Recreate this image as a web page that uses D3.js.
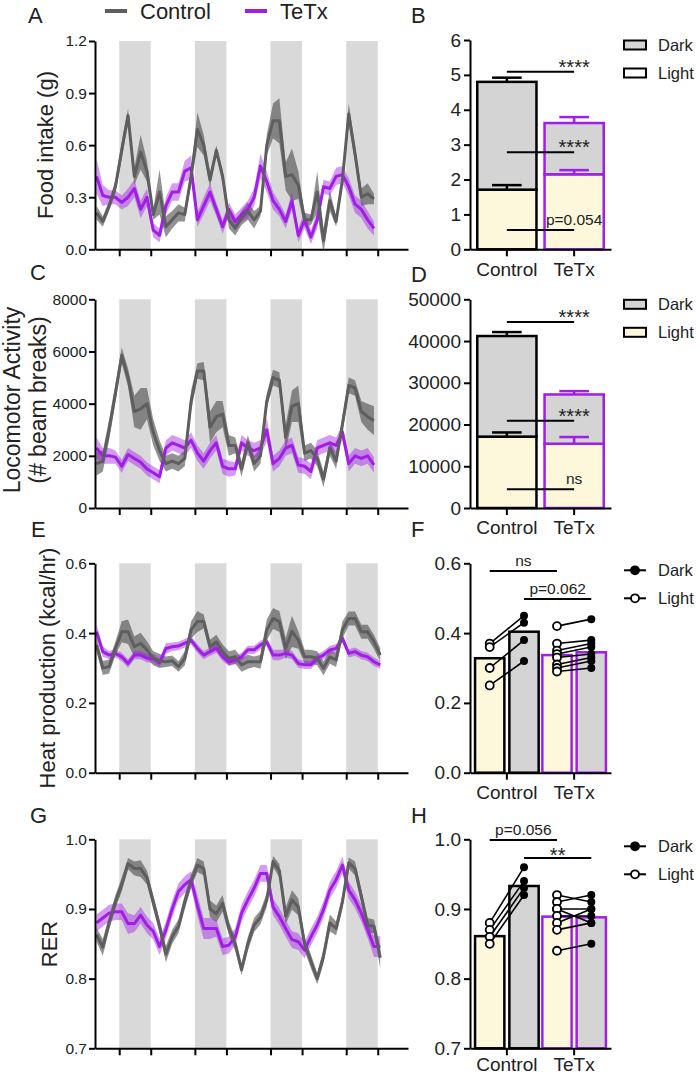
<!DOCTYPE html>
<html>
<head>
<meta charset="utf-8">
<script src="https://cdn.jsdelivr.net/npm/d3@7"></script>
<style>
  body { margin: 0; background: #fff; }
  svg { font-family: "Liberation Sans", Arial, sans-serif; }
</style>
</head>
<body>
<script>
// ---------- data ----------
var groups = ["Control", "TeTx"];
var phases = ["Light", "Dark"];

// dark phase shading (hours), data in 2 h bins starting at hour 0
var darkStart = [7.2, 31.2, 55.2, 79.2];
var darkEnd = [17.2, 41.2, 65.2, 89.2];
var binHours = 2;

// A - food intake (g)
var foodCtrl = [0.21, 0.16, 0.25, 0.36, 0.57, 0.77, 0.42, 0.56, 0.45, 0.20, 0.33, 0.13, 0.17, 0.21, 0.20, 0.42, 0.69, 0.60, 0.40, 0.57, 0.42, 0.17, 0.12, 0.18, 0.22, 0.17, 0.22, 0.60, 0.74, 0.74, 0.42, 0.43, 0.37, 0.17, 0.17, 0.33, 0.05, 0.28, 0.16, 0.40, 0.78, 0.55, 0.30, 0.32, 0.29];
var foodCtrlSem = [0.04, 0.03, 0.03, 0.04, 0.05, 0.04, 0.05, 0.10, 0.06, 0.03, 0.13, 0.06, 0.05, 0.05, 0.04, 0.04, 0.10, 0.06, 0.04, 0.03, 0.04, 0.05, 0.04, 0.04, 0.05, 0.05, 0.03, 0.06, 0.10, 0.13, 0.08, 0.15, 0.08, 0.04, 0.03, 0.12, 0.07, 0.06, 0.03, 0.04, 0.06, 0.05, 0.05, 0.06, 0.03];
var foodTetx = [0.42, 0.31, 0.30, 0.30, 0.27, 0.30, 0.35, 0.23, 0.30, 0.11, 0.08, 0.25, 0.33, 0.33, 0.45, 0.47, 0.17, 0.25, 0.33, 0.23, 0.13, 0.23, 0.16, 0.20, 0.23, 0.30, 0.48, 0.39, 0.28, 0.23, 0.16, 0.28, 0.08, 0.17, 0.07, 0.17, 0.36, 0.35, 0.42, 0.43, 0.36, 0.26, 0.23, 0.17, 0.12];
var foodTetxSem = [0.10, 0.06, 0.04, 0.04, 0.04, 0.05, 0.05, 0.05, 0.05, 0.04, 0.04, 0.05, 0.05, 0.05, 0.06, 0.07, 0.04, 0.05, 0.05, 0.04, 0.04, 0.04, 0.04, 0.04, 0.05, 0.05, 0.07, 0.06, 0.05, 0.04, 0.04, 0.05, 0.04, 0.05, 0.04, 0.05, 0.04, 0.04, 0.05, 0.05, 0.05, 0.05, 0.05, 0.05, 0.04];

// C - locomotor activity (# beam breaks)
var locoCtrl = [1700, 1800, 3000, 4400, 5850, 5000, 3700, 3800, 4000, 2900, 2200, 1700, 1800, 1700, 1900, 4100, 5250, 5250, 3100, 3500, 3600, 2400, 2400, 1500, 2500, 1700, 2000, 4100, 5000, 4900, 2700, 3900, 4000, 2100, 2200, 1900, 1100, 2300, 1800, 3200, 4700, 4600, 3700, 3500, 3350];
var locoCtrlSem = [450, 400, 400, 350, 300, 350, 600, 800, 600, 500, 400, 300, 300, 300, 300, 400, 300, 350, 600, 600, 500, 400, 300, 300, 300, 300, 300, 300, 300, 300, 500, 600, 700, 300, 300, 300, 300, 300, 300, 300, 300, 300, 400, 500, 550];
var locoTetx = [2300, 2000, 2000, 1950, 1600, 2050, 1900, 1750, 1500, 1350, 1200, 2300, 2500, 2400, 2300, 2600, 2100, 1800, 2200, 2500, 1600, 1500, 1500, 2500, 2300, 2200, 2300, 3000, 1700, 1900, 2300, 2400, 1650, 1600, 1400, 2300, 2400, 2500, 2400, 2900, 1700, 2000, 1900, 2000, 1650];
var locoTetxSem = [400, 300, 300, 250, 250, 250, 250, 250, 250, 250, 250, 300, 300, 300, 300, 300, 300, 300, 300, 300, 300, 300, 250, 300, 300, 300, 300, 450, 300, 300, 300, 300, 300, 300, 300, 300, 300, 300, 300, 300, 300, 300, 300, 300, 300];

// E - heat production (kcal/hr)
var heatCtrl = [0.366, 0.300, 0.304, 0.356, 0.404, 0.404, 0.361, 0.371, 0.352, 0.328, 0.320, 0.318, 0.321, 0.304, 0.328, 0.409, 0.433, 0.433, 0.361, 0.375, 0.347, 0.328, 0.332, 0.309, 0.318, 0.318, 0.318, 0.409, 0.442, 0.433, 0.356, 0.405, 0.380, 0.332, 0.332, 0.328, 0.299, 0.332, 0.323, 0.409, 0.442, 0.442, 0.404, 0.404, 0.375, 0.337];
var heatCtrlSem = [0.02, 0.02, 0.02, 0.02, 0.03, 0.035, 0.03, 0.03, 0.025, 0.02, 0.02, 0.015, 0.015, 0.015, 0.02, 0.025, 0.03, 0.02, 0.02, 0.02, 0.02, 0.02, 0.02, 0.02, 0.02, 0.015, 0.02, 0.03, 0.03, 0.03, 0.03, 0.045, 0.025, 0.02, 0.02, 0.02, 0.02, 0.02, 0.02, 0.025, 0.02, 0.02, 0.02, 0.02, 0.02, 0.02];
var heatTetx = [0.404, 0.347, 0.337, 0.342, 0.332, 0.313, 0.337, 0.337, 0.328, 0.328, 0.315, 0.356, 0.361, 0.363, 0.371, 0.380, 0.356, 0.337, 0.347, 0.356, 0.332, 0.318, 0.323, 0.332, 0.352, 0.352, 0.366, 0.375, 0.337, 0.337, 0.342, 0.337, 0.313, 0.309, 0.309, 0.328, 0.337, 0.352, 0.356, 0.385, 0.342, 0.347, 0.337, 0.332, 0.318, 0.309];
var heatTetxSem = [0.02, 0.015, 0.012, 0.012, 0.012, 0.012, 0.012, 0.012, 0.012, 0.012, 0.012, 0.015, 0.012, 0.012, 0.012, 0.012, 0.012, 0.012, 0.012, 0.012, 0.012, 0.012, 0.012, 0.012, 0.012, 0.012, 0.012, 0.012, 0.015, 0.015, 0.012, 0.012, 0.012, 0.012, 0.012, 0.012, 0.012, 0.012, 0.012, 0.012, 0.012, 0.012, 0.012, 0.012, 0.012, 0.012];

// G - RER
var rerCtrl = [0.863, 0.845, 0.880, 0.910, 0.935, 0.965, 0.958, 0.958, 0.945, 0.910, 0.875, 0.835, 0.860, 0.875, 0.910, 0.940, 0.963, 0.958, 0.900, 0.893, 0.908, 0.872, 0.850, 0.813, 0.850, 0.877, 0.888, 0.913, 0.968, 0.955, 0.890, 0.913, 0.903, 0.850, 0.825, 0.800, 0.832, 0.880, 0.872, 0.910, 0.966, 0.958, 0.918, 0.877, 0.875, 0.830];
var rerCtrlSem = [0.010, 0.012, 0.010, 0.010, 0.010, 0.008, 0.010, 0.012, 0.010, 0.010, 0.010, 0.012, 0.010, 0.010, 0.010, 0.010, 0.010, 0.010, 0.012, 0.012, 0.012, 0.010, 0.010, 0.008, 0.010, 0.010, 0.010, 0.010, 0.008, 0.010, 0.012, 0.014, 0.012, 0.010, 0.010, 0.008, 0.010, 0.012, 0.010, 0.010, 0.008, 0.010, 0.010, 0.010, 0.010, 0.015];
var rerTetx = [0.880, 0.887, 0.894, 0.896, 0.896, 0.879, 0.879, 0.891, 0.877, 0.868, 0.846, 0.870, 0.900, 0.925, 0.935, 0.942, 0.905, 0.872, 0.872, 0.872, 0.846, 0.848, 0.860, 0.894, 0.913, 0.930, 0.951, 0.951, 0.903, 0.889, 0.872, 0.856, 0.853, 0.841, 0.860, 0.877, 0.899, 0.927, 0.942, 0.963, 0.927, 0.913, 0.894, 0.870, 0.846, 0.846];
var rerTetxSem = [0.012, 0.012, 0.012, 0.012, 0.012, 0.015, 0.012, 0.012, 0.012, 0.012, 0.012, 0.012, 0.012, 0.012, 0.012, 0.012, 0.015, 0.015, 0.015, 0.012, 0.012, 0.012, 0.012, 0.012, 0.012, 0.012, 0.012, 0.012, 0.012, 0.012, 0.012, 0.012, 0.012, 0.012, 0.012, 0.012, 0.012, 0.012, 0.012, 0.012, 0.012, 0.012, 0.012, 0.012, 0.015, 0.015];

// B - total food intake, stacked light + dark
var foodLight = [1.71, 2.15];
var foodLightErr = [0.13, 0.12];
var foodDark = [3.09, 1.47];
var foodDarkErr = [0.12, 0.17];
var foodSigY = [5.09, 2.78, 0.55];
var foodSigText = ["****", "****", "p=0.054"];

// D - total activity, stacked light + dark
var locoLight = [17100, 15400];
var locoLightErr = [1000, 1600];
var locoDark = [24100, 11800];
var locoDarkErr = [950, 800];
var locoSigY = [44560, 20900, 4480];
var locoSigText = ["****", "****", "ns"];

// F - heat production by phase (bars = means, points = animals)
var heatBarLight = [0.328, 0.337];
var heatBarDark = [0.404, 0.345];
var heatCtrlLightPts = [0.37, 0.36, 0.30, 0.25];
var heatCtrlDarkPts = [0.45, 0.43, 0.38, 0.32];
var heatTetxLightPts = [0.42, 0.37, 0.35, 0.34, 0.33, 0.31, 0.30, 0.29];
var heatTetxDarkPts = [0.44, 0.38, 0.37, 0.36, 0.34, 0.33, 0.32, 0.30];
var heatSigPhase = ["Light", "Dark"];
var heatSigY = [0.578, 0.498];
var heatSigText = ["ns", "p=0.062"];

// H - RER by phase
var rerBarLight = [0.861, 0.889];
var rerBarDark = [0.933, 0.888];
var rerCtrlLightPts = [0.88, 0.87, 0.86, 0.85];
var rerCtrlDarkPts = [0.96, 0.94, 0.93, 0.92];
var rerTetxLightPts = [0.92, 0.91, 0.90, 0.90, 0.89, 0.88, 0.87, 0.84];
var rerTetxDarkPts = [0.91, 0.92, 0.90, 0.88, 0.89, 0.90, 0.88, 0.85];
var rerSigPhase = ["Light", "Dark"];
var rerSigY = [0.999, 0.973];
var rerSigText = ["p=0.056", "**"];

// ---------- setup ----------
var ctrlColor = "#5e5e5e", tetxColor = "#a01ee6";
var lightFill = "#fdf8dc", darkFill = "#d4d4d4", bandFill = "#d9d9d9";

var svg = d3.select("body").append("svg").attr("width", 696).attr("height", 1076);

var xTime = d3.scaleLinear().domain([-0.48, 98.8]).range([95, 408]);
var xCat = d3.scaleBand().domain(groups).range([470, 611]).paddingInner(0.12).paddingOuter(0.108);
var xSub = d3.scaleBand().domain(phases).range([-2.2, xCat.bandwidth() + 2.2]).paddingInner(0.146);

function styleAxis(g, fontSize) {
    g.select(".domain").attr("stroke", "#000").attr("stroke-width", 2);
    g.selectAll(".tick line").attr("stroke", "#000").attr("stroke-width", 2);
    g.selectAll(".tick text").attr("fill", "#222").style("font-size", fontSize + "px")
        .style("font-family", "'Liberation Sans', Arial, sans-serif");
}

function panelLetter(txt, x, y) {
    svg.append("text").attr("x", x).attr("y", y).attr("font-size", 22).attr("fill", "#222").text(txt);
}

function yTitle(lines, x, yc, size) {
    lines.forEach(function (t, i) {
        svg.append("text")
            .attr("transform", "translate(" + x[i] + "," + yc + ") rotate(-90)")
            .attr("text-anchor", "middle").attr("font-size", size || 22).attr("fill", "#222")
            .text(t);
    });
}

// time course panel with SEM bands
function timePanel(o) {
    var y = d3.scaleLinear().domain(o.domain).range([o.bottom, o.top]);
    var g = svg.append("g");

    svg.append("clipPath").attr("id", "clip" + o.id).append("rect")
        .attr("x", 95).attr("y", o.top - 2).attr("width", 313).attr("height", o.bottom - o.top + 2);

    g.selectAll(".band").data(darkStart).enter().append("rect")
        .attr("x", function (d) { return xTime(d); })
        .attr("width", function (d, i) { return xTime(darkEnd[i]) - xTime(d); })
        .attr("y", o.top).attr("height", o.bottom - o.top)
        .attr("fill", bandFill);

    var series = [
        { m: o.ctrl, s: o.ctrlSem, line: ctrlColor, fill: "#4a4a4a", op: 0.6 },
        { m: o.tetx, s: o.tetxSem, line: tetxColor, fill: "#a01ee6", op: 0.45 }
    ];

    var area = d3.area()
        .x(function (d, i) { return xTime(i * binHours); })
        .y0(function (d) { return y(d.m - d.s); })
        .y1(function (d) { return y(d.m + d.s); });
    var line = d3.line()
        .x(function (d, i) { return xTime(i * binHours); })
        .y(function (d) { return y(d.m); });

    var plot = g.append("g").attr("clip-path", "url(#clip" + o.id + ")");
    series.forEach(function (sr) {
        var pts = sr.m.map(function (v, i) { return { m: v, s: sr.s[i] }; });
        plot.append("path").datum(pts).attr("d", area).attr("fill", sr.fill).attr("opacity", sr.op);
    });
    [series[1], series[0]].forEach(function (sr) {
        var pts = sr.m.map(function (v, i) { return { m: v, s: sr.s[i] }; });
        plot.append("path").datum(pts).attr("d", line).attr("fill", "none")
            .attr("stroke", sr.line).attr("stroke-width", 3).attr("stroke-linejoin", "round");
    });

    var ya = g.append("g").attr("transform", "translate(95,0)")
        .call(d3.axisLeft(y).tickValues(o.ticks).tickFormat(d3.format(o.fmt)).tickSize(6).tickSizeOuter(0).tickPadding(2));
    styleAxis(ya, 15.5);

    var xa = g.append("g").attr("transform", "translate(0," + o.bottom + ")")
        .call(d3.axisBottom(xTime).tickValues(darkStart.concat(darkEnd)).tickFormat("").tickSize(7).tickSizeOuter(0));
    styleAxis(xa, 15);
}

function catAxes(g, y, o) {
    var ya = g.append("g").attr("transform", "translate(470,0)")
        .call(d3.axisLeft(y).tickValues(o.ticks).tickFormat(d3.format(o.fmt)).tickSize(6).tickSizeOuter(0).tickPadding(3));
    styleAxis(ya, 19);
    var xa = g.append("g").attr("transform", "translate(0," + o.bottom + ")")
        .call(d3.axisBottom(xCat).tickSize(7).tickSizeOuter(0).tickPadding(o.labelPad || 6));
    styleAxis(xa, 19);
}

// stacked light/dark totals
function stackPanel(o) {
    var y = d3.scaleLinear().domain([0, o.max]).range([o.bottom, o.top]);
    var g = svg.append("g");
    var rows = groups.map(function (grp, i) {
        return { group: grp, Light: o.light[i], Dark: o.dark[i], LightErr: o.lightErr[i], DarkErr: o.darkErr[i] };
    });
    var layers = d3.stack().keys(phases)(rows);

    layers.forEach(function (layer) {
        g.selectAll(null).data(layer).enter().append("rect")
            .attr("x", function (d) { return xCat(d.data.group); })
            .attr("width", xCat.bandwidth())
            .attr("y", function (d) { return y(d[1]); })
            .attr("height", function (d) { return y(d[0]) - y(d[1]); })
            .attr("fill", layer.key === "Light" ? lightFill : darkFill)
            .attr("stroke", function (d) { return d.data.group === "Control" ? "#000" : tetxColor; })
            .attr("stroke-width", 2.5);
    });
    layers.forEach(function (layer) {
        var eb = g.selectAll(null).data(layer).enter().append("g")
            .attr("stroke", function (d) { return d.data.group === "Control" ? "#000" : tetxColor; })
            .attr("stroke-width", 2.5);
        eb.append("line")
            .attr("x1", function (d) { return xCat(d.data.group) + xCat.bandwidth() / 2; })
            .attr("x2", function (d) { return xCat(d.data.group) + xCat.bandwidth() / 2; })
            .attr("y1", function (d) { return y(d[1]); })
            .attr("y2", function (d) { return y(d[1] + d.data[layer.key + "Err"]); });
        eb.append("line")
            .attr("x1", function (d) { return xCat(d.data.group) + xCat.bandwidth() / 4; })
            .attr("x2", function (d) { return xCat(d.data.group) + xCat.bandwidth() * 3 / 4; })
            .attr("y1", function (d) { return y(d[1] + d.data[layer.key + "Err"]); })
            .attr("y2", function (d) { return y(d[1] + d.data[layer.key + "Err"]); });
    });

    var cx0 = xCat("Control") + xCat.bandwidth() / 2, cx1 = xCat("TeTx") + xCat.bandwidth() / 2;
    o.sigY.forEach(function (v, i) {
        g.append("line").attr("x1", cx0).attr("x2", cx1).attr("y1", y(v)).attr("y2", y(v))
            .attr("stroke", "#000").attr("stroke-width", 2);
        var stars = o.sigText[i].indexOf("*") === 0;
        g.append("text").attr("x", cx1).attr("y", stars ? y(v) + 2 : y(v) - 5)
            .attr("text-anchor", "middle").attr("font-size", stars ? 20 : 15.5).attr("fill", "#222")
            .text(o.sigText[i]);
    });

    catAxes(g, y, o);

    // legend
    phases.slice().reverse().forEach(function (ph, i) {
        var ly = o.top + 5 + i * 28;
        g.append("rect").attr("x", 624).attr("y", ly - 4.5).attr("width", 22).attr("height", 9)
            .attr("fill", ph === "Dark" ? darkFill : o.legendLight).attr("stroke", "#000").attr("stroke-width", 2);
        g.append("text").attr("x", 658).attr("y", ly + 6).attr("font-size", 16.5).attr("fill", "#222").text(ph);
    });
}

// light vs dark bars with paired animals
function pairedPanel(o) {
    var y = d3.scaleLinear().domain(o.domain).range([o.bottom, o.top]);
    var g = svg.append("g");
    var rows = [];
    groups.forEach(function (grp, i) {
        rows.push({ group: grp, phase: "Light", value: o.light[i] });
        rows.push({ group: grp, phase: "Dark", value: o.dark[i] });
    });
    function cx(grp, ph) { return xCat(grp) + xSub(ph) + xSub.bandwidth() / 2; }

    g.selectAll(null).data(rows).enter().append("rect")
        .attr("x", function (d) { return xCat(d.group) + xSub(d.phase); })
        .attr("width", xSub.bandwidth())
        .attr("y", function (d) { return y(d.value); })
        .attr("height", function (d) { return o.bottom - y(d.value); })
        .attr("fill", function (d) { return d.phase === "Light" ? lightFill : darkFill; })
        .attr("stroke", function (d) { return d.group === "Control" ? "#000" : tetxColor; })
        .attr("stroke-width", 2.5);

    groups.forEach(function (grp) {
        var lp = o.pts[grp].Light, dp = o.pts[grp].Dark;
        var pairs = lp.map(function (v, i) { return { l: v, d: dp[i] }; });
        g.selectAll(null).data(pairs).enter().append("line")
            .attr("x1", cx(grp, "Light")).attr("x2", cx(grp, "Dark"))
            .attr("y1", function (d) { return y(d.l); }).attr("y2", function (d) { return y(d.d); })
            .attr("stroke", "#000").attr("stroke-width", 1.6);
        g.selectAll(null).data(lp).enter().append("circle")
            .attr("cx", cx(grp, "Light")).attr("cy", function (d) { return y(d); }).attr("r", 4)
            .attr("fill", "#fff").attr("stroke", "#000").attr("stroke-width", 1.8);
        g.selectAll(null).data(dp).enter().append("circle")
            .attr("cx", cx(grp, "Dark")).attr("cy", function (d) { return y(d); }).attr("r", 4)
            .attr("fill", "#000");
    });

    o.sigY.forEach(function (v, i) {
        var x0 = cx("Control", o.sigPhase[i]), x1 = cx("TeTx", o.sigPhase[i]);
        g.append("line").attr("x1", x0).attr("x2", x1).attr("y1", y(v)).attr("y2", y(v))
            .attr("stroke", "#000").attr("stroke-width", 2);
        var stars = o.sigText[i].indexOf("*") === 0;
        g.append("text").attr("x", (x0 + x1) / 2).attr("y", stars ? y(v) + 4 : y(v) - 5)
            .attr("text-anchor", "middle").attr("font-size", stars ? 20 : 15.5).attr("fill", "#222")
            .text(o.sigText[i]);
    });

    catAxes(g, y, o);

    phases.slice().reverse().forEach(function (ph, i) {
        var ly = o.top + 7 + i * 28;
        g.append("line").attr("x1", 624).attr("x2", 646).attr("y1", ly).attr("y2", ly)
            .attr("stroke", "#000").attr("stroke-width", 2);
        g.append("circle").attr("cx", 635).attr("cy", ly).attr("r", 4)
            .attr("fill", ph === "Dark" ? "#000" : "#fff").attr("stroke", "#000").attr("stroke-width", 1.8);
        g.append("text").attr("x", 658).attr("y", ly + 6).attr("font-size", 16.5).attr("fill", "#222").text(ph);
    });
}

// ---------- top legend ----------
[["Control", ctrlColor, 105], ["TeTx", tetxColor, 245]].forEach(function (d) {
    svg.append("line").attr("x1", d[2]).attr("x2", d[2] + 22).attr("y1", 11).attr("y2", 11)
        .attr("stroke", d[1]).attr("stroke-width", 4);
    svg.append("text").attr("x", d[2] + 35).attr("y", 19).attr("font-size", 22).attr("fill", "#222").text(d[0]);
});

// ---------- panels ----------
timePanel({ id: "A", top: 41, bottom: 249.3, domain: [0, 1.2], ticks: [0, 0.3, 0.6, 0.9, 1.2], fmt: ".1f",
    ctrl: foodCtrl, ctrlSem: foodCtrlSem, tetx: foodTetx, tetxSem: foodTetxSem });
timePanel({ id: "C", top: 299.3, bottom: 508, domain: [0, 8000], ticks: [0, 2000, 4000, 6000, 8000], fmt: "d",
    ctrl: locoCtrl, ctrlSem: locoCtrlSem, tetx: locoTetx, tetxSem: locoTetxSem });
timePanel({ id: "E", top: 563.3, bottom: 772.7, domain: [0, 0.6], ticks: [0, 0.2, 0.4, 0.6], fmt: ".1f",
    ctrl: heatCtrl, ctrlSem: heatCtrlSem, tetx: heatTetx, tetxSem: heatTetxSem });
timePanel({ id: "G", top: 839.3, bottom: 1048.3, domain: [0.7, 1.0], ticks: [0.7, 0.8, 0.9, 1.0], fmt: ".1f",
    ctrl: rerCtrl, ctrlSem: rerCtrlSem, tetx: rerTetx, tetxSem: rerTetxSem });

stackPanel({ top: 40, bottom: 249.3, max: 6, ticks: [0, 1, 2, 3, 4, 5, 6], fmt: "d",
    light: foodLight, lightErr: foodLightErr, dark: foodDark, darkErr: foodDarkErr,
    sigY: foodSigY, sigText: foodSigText, legendLight: "#fff" });
stackPanel({ top: 299.3, bottom: 508, max: 50000, ticks: [0, 10000, 20000, 30000, 40000, 50000], fmt: "d",
    light: locoLight, lightErr: locoLightErr, dark: locoDark, darkErr: locoDarkErr,
    sigY: locoSigY, sigText: locoSigText, legendLight: lightFill });
pairedPanel({ top: 563.3, bottom: 772.7, domain: [0, 0.6], ticks: [0, 0.2, 0.4, 0.6], fmt: ".1f",
    light: heatBarLight, dark: heatBarDark,
    pts: { Control: { Light: heatCtrlLightPts, Dark: heatCtrlDarkPts }, TeTx: { Light: heatTetxLightPts, Dark: heatTetxDarkPts } },
    sigPhase: heatSigPhase, sigY: heatSigY, sigText: heatSigText });
pairedPanel({ top: 839.3, bottom: 1048.3, domain: [0.7, 1.0], ticks: [0.7, 0.8, 0.9, 1.0], fmt: ".1f",
    light: rerBarLight, dark: rerBarDark, labelPad: 2,
    pts: { Control: { Light: rerCtrlLightPts, Dark: rerCtrlDarkPts }, TeTx: { Light: rerTetxLightPts, Dark: rerTetxDarkPts } },
    sigPhase: rerSigPhase, sigY: rerSigY, sigText: rerSigText });

// ---------- axis titles and panel letters ----------
yTitle(["Food intake (g)"], [53], 145);
yTitle(["Locomotor Activity", "(# beam breaks)"], [20, 45.5], 400, 23);
yTitle(["Heat production (kcal/hr)"], [55], 668);
yTitle(["RER"], [56.5], 944);

panelLetter("A", 28, 23);
panelLetter("B", 411, 23);
panelLetter("C", 30, 280);
panelLetter("D", 411, 282);
panelLetter("E", 31, 537);
panelLetter("F", 411, 537);
panelLetter("G", 30, 823);
panelLetter("H", 411, 823);
</script>
</body>
</html>
